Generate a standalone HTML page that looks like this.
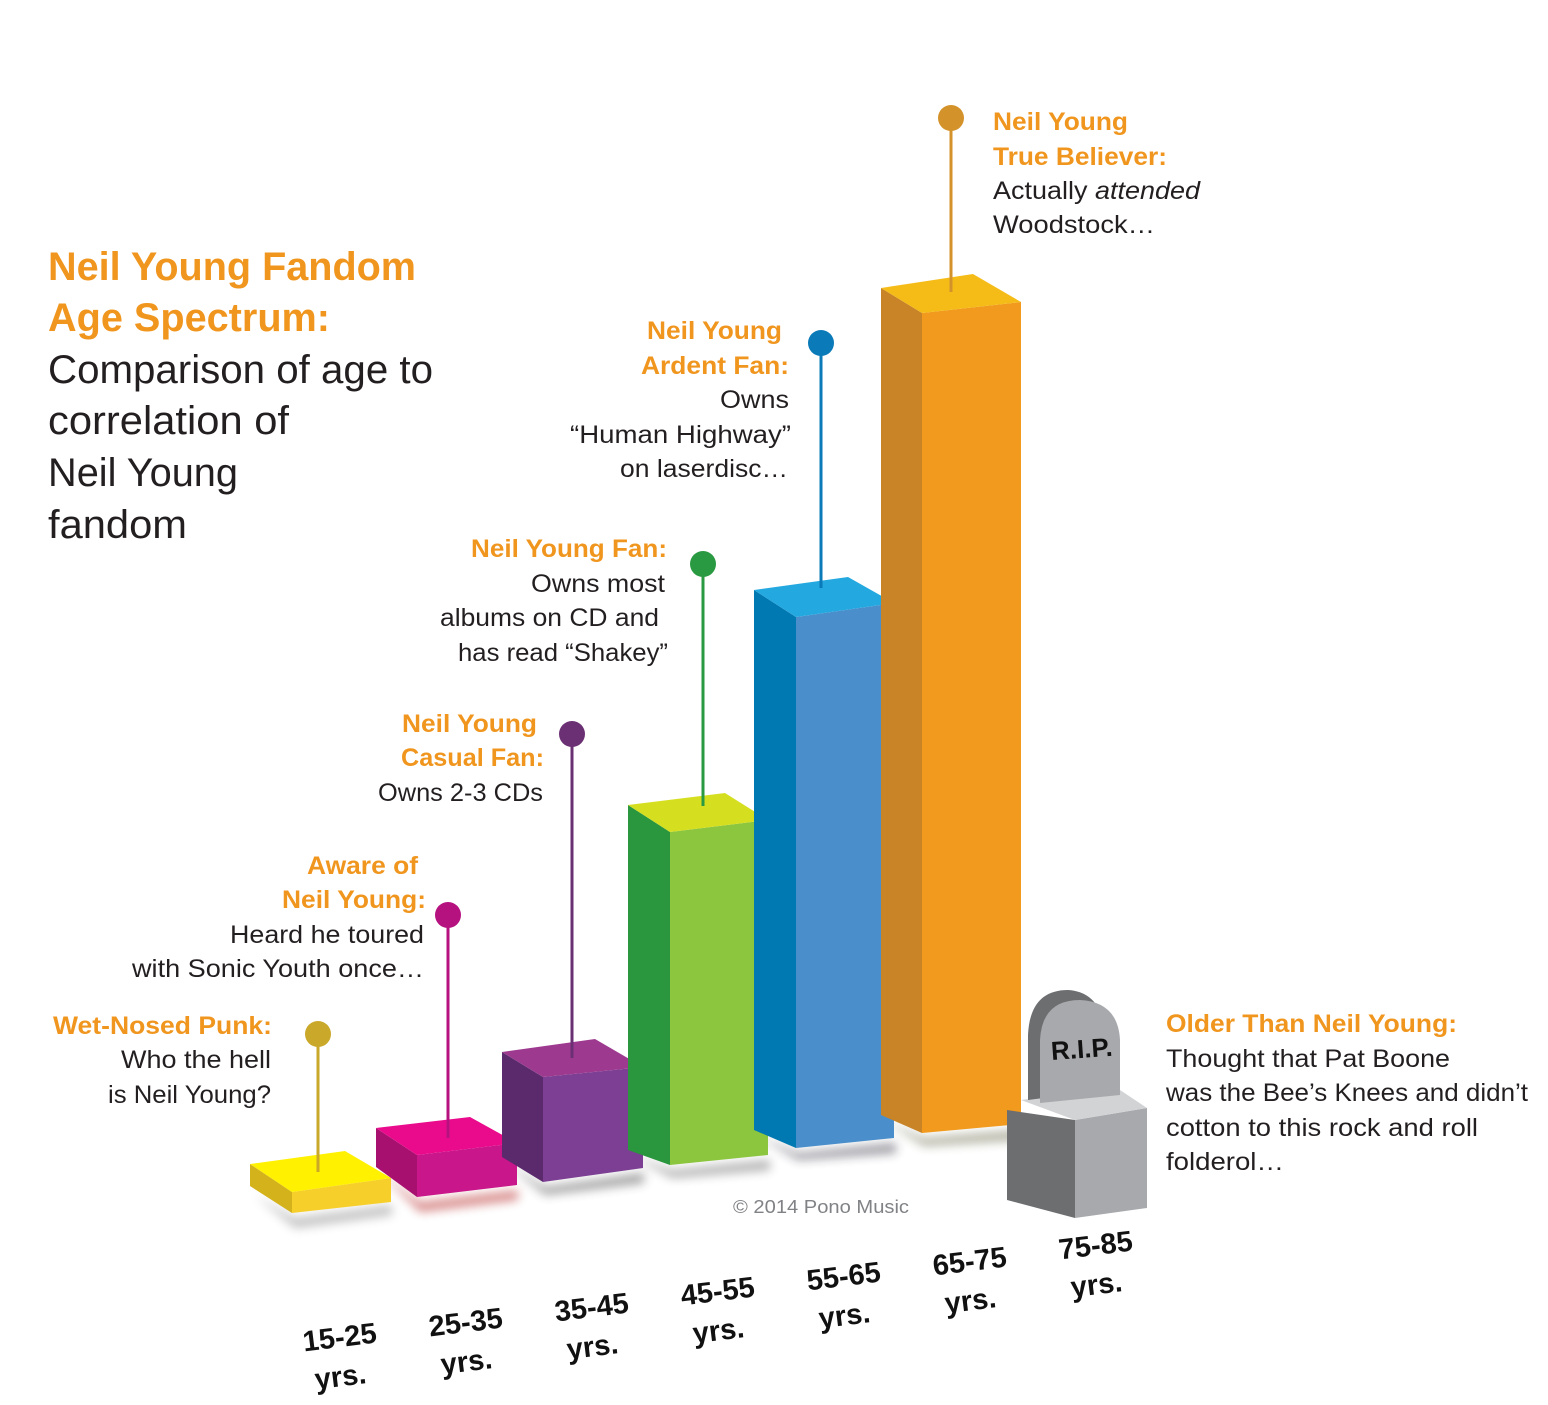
<!DOCTYPE html>
<html><head><meta charset="utf-8"><style>
html,body{margin:0;padding:0;background:#fff;}
svg{display:block;}
text{font-family:"Liberation Sans",sans-serif;}
.t{fill:#231f20;font-size:25px;}
.o{fill:#f0961e;font-size:25px;font-weight:bold;}
.y{fill:#111;font-size:29px;font-weight:bold;}
</style></head><body>
<svg width="1548" height="1405" viewBox="0 0 1548 1405" xmlns="http://www.w3.org/2000/svg">
<defs>
<filter id="sh" x="-20%" y="-20%" width="140%" height="140%"><feGaussianBlur stdDeviation="5"/></filter>
</defs>
<text x="48" y="280" fill="#f0961e" font-size="40" font-weight="bold" textLength="368" lengthAdjust="spacingAndGlyphs">Neil Young Fandom</text>
<text x="48" y="331" fill="#f0961e" font-size="40" font-weight="bold" textLength="282" lengthAdjust="spacingAndGlyphs">Age Spectrum:</text>
<text x="48" y="383" fill="#231f20" font-size="40" textLength="385" lengthAdjust="spacingAndGlyphs">Comparison of age to</text>
<text x="48" y="434" fill="#231f20" font-size="40" textLength="241" lengthAdjust="spacingAndGlyphs">correlation of</text>
<text x="48" y="486" fill="#231f20" font-size="40" textLength="190" lengthAdjust="spacingAndGlyphs">Neil Young</text>
<text x="48" y="538" fill="#231f20" font-size="40" textLength="139" lengthAdjust="spacingAndGlyphs">fandom</text>

<g filter="url(#sh)" opacity="0.45">
<polygon points="255,1195 295,1218 392,1205 392,1215 295,1228" fill="#777"/>
<polygon points="380,1172 420,1202 518,1190 518,1200 420,1212" fill="#a00"/>
<polygon points="505,1162 545,1187 644,1173 644,1183 545,1195" fill="#333"/>
<polygon points="630,1155 672,1170 770,1160 770,1170 672,1178" fill="#555"/>
<polygon points="756,1135 798,1153 896,1143 896,1153 798,1160" fill="#223"/>
<polygon points="883,1120 924,1138 1022,1130 1022,1140 924,1146" fill="#553"/>
</g>

<polygon points="250,1164 292,1192 292,1213 250,1186" fill="#d4b21c"/>
<polygon points="292,1192 391,1178 391,1202 292,1213" fill="#f7cf2a"/>
<polygon points="250,1164 345,1151 391,1178 292,1192" fill="#fff100"/>
<polygon points="376,1128 417,1155 417,1197 376,1167" fill="#a8106f"/>
<polygon points="417,1155 517,1143 517,1185 417,1197" fill="#c9168a"/>
<polygon points="376,1128 470,1117 517,1143 417,1155" fill="#ea0a8c"/>
<polygon points="502,1052 543,1077 543,1182 502,1157" fill="#5b2a6d"/>
<polygon points="543,1077 643,1067 643,1168 543,1182" fill="#7c3f94"/>
<polygon points="502,1052 595,1039 643,1067 543,1077" fill="#9d3a8f"/>
<polygon points="628,805 670,832 670,1165 628,1150" fill="#2a963e"/>
<polygon points="670,832 768,820 768,1155 670,1165" fill="#8cc63f"/>
<polygon points="628,805 725,793 768,820 670,832" fill="#d5df20"/>
<polygon points="754,590 796,617 796,1148 754,1130" fill="#0079b2"/>
<polygon points="796,617 894,603 894,1138 796,1148" fill="#4a8fcc"/>
<polygon points="754,590 848,577 894,603 796,617" fill="#24a8e0"/>
<polygon points="881,288 922,313 922,1133 881,1115" fill="#c88427"/>
<polygon points="922,313 1021,302 1021,1124 922,1133" fill="#f19a1d"/>
<polygon points="881,288 973,274 1021,302 922,313" fill="#f5bc18"/>

<polygon points="1007,1110 1075,1120 1075,1218 1007,1200" fill="#6d6e70"/>
<polygon points="1075,1120 1147,1108 1147,1208 1075,1218" fill="#a7a9ac"/>
<polygon points="1021,1100 1117,1088 1147,1108 1075,1120" fill="#d1d3d4"/>
<path d="M1028,1100 L1028,1035 Q1030,990 1068,990 Q1100,992 1105,1030 L1105,1090 Z" fill="#6d6e70"/>
<path d="M1040,1103 L1040,1040 Q1042,1000 1080,1000 Q1118,1002 1120,1040 L1120,1095 Z" fill="#a7a9ac"/>
<text x="1051" y="1058" font-size="26" font-weight="bold" fill="#111" transform="rotate(-4 1080 1050)">R.I.P.</text>

<g stroke-width="3">
<line x1="318" y1="1034" x2="318" y2="1172" stroke="#c9a82a"/>
<line x1="448" y1="915" x2="448" y2="1138" stroke="#b5127f"/>
<line x1="572" y1="734" x2="572" y2="1058" stroke="#6b2f74"/>
<line x1="703" y1="564" x2="703" y2="806" stroke="#2a9a42"/>
<line x1="821" y1="343" x2="821" y2="588" stroke="#0a7ab8"/>
<line x1="951" y1="118" x2="951" y2="292" stroke="#d4922a"/>
</g>
<circle cx="318" cy="1034" r="13" fill="#c9a82a"/>
<circle cx="448" cy="915" r="13" fill="#b5127f"/>
<circle cx="572" cy="734" r="13" fill="#6b2f74"/>
<circle cx="703" cy="564" r="13" fill="#2a9a42"/>
<circle cx="821" cy="343" r="13" fill="#0a7ab8"/>
<circle cx="951" cy="118" r="13" fill="#d4922a"/>

<text class="o" x="993" y="130" textLength="135" lengthAdjust="spacingAndGlyphs">Neil Young</text>
<text class="o" x="993" y="165" textLength="174" lengthAdjust="spacingAndGlyphs">True Believer:</text>
<text class="t" x="993" y="199" textLength="207" lengthAdjust="spacingAndGlyphs">Actually <tspan font-style="italic">attended</tspan></text>
<text class="t" x="993" y="233" textLength="162" lengthAdjust="spacingAndGlyphs">Woodstock…</text>

<text class="o" x="647" y="339" textLength="135" lengthAdjust="spacingAndGlyphs">Neil Young</text>
<text class="o" x="641" y="374" textLength="148" lengthAdjust="spacingAndGlyphs">Ardent Fan:</text>
<text class="t" x="720" y="408" textLength="69" lengthAdjust="spacingAndGlyphs">Owns</text>
<text class="t" x="570" y="443" textLength="221" lengthAdjust="spacingAndGlyphs">“Human Highway”</text>
<text class="t" x="620" y="477" textLength="168" lengthAdjust="spacingAndGlyphs">on laserdisc…</text>

<text class="o" x="471" y="557" textLength="196" lengthAdjust="spacingAndGlyphs">Neil Young Fan:</text>
<text class="t" x="531" y="592" textLength="134" lengthAdjust="spacingAndGlyphs">Owns most</text>
<text class="t" x="440" y="626" textLength="219" lengthAdjust="spacingAndGlyphs">albums on CD and</text>
<text class="t" x="458" y="661" textLength="210" lengthAdjust="spacingAndGlyphs">has read “Shakey”</text>

<text class="o" x="402" y="732" textLength="135" lengthAdjust="spacingAndGlyphs">Neil Young</text>
<text class="o" x="401" y="766" textLength="143" lengthAdjust="spacingAndGlyphs">Casual Fan:</text>
<text class="t" x="378" y="801" textLength="165" lengthAdjust="spacingAndGlyphs">Owns 2-3 CDs</text>

<text class="o" x="307" y="874" textLength="111" lengthAdjust="spacingAndGlyphs">Aware of</text>
<text class="o" x="282" y="908" textLength="144" lengthAdjust="spacingAndGlyphs">Neil Young:</text>
<text class="t" x="230" y="943" textLength="194" lengthAdjust="spacingAndGlyphs">Heard he toured</text>
<text class="t" x="132" y="977" textLength="292" lengthAdjust="spacingAndGlyphs">with Sonic Youth once…</text>

<text class="o" x="53" y="1034" textLength="219" lengthAdjust="spacingAndGlyphs">Wet-Nosed Punk:</text>
<text class="t" x="121" y="1068" textLength="150" lengthAdjust="spacingAndGlyphs">Who the hell</text>
<text class="t" x="108" y="1103" textLength="163" lengthAdjust="spacingAndGlyphs">is Neil Young?</text>

<text class="o" x="1166" y="1032" textLength="291" lengthAdjust="spacingAndGlyphs">Older Than Neil Young:</text>
<text class="t" x="1166" y="1067" textLength="284" lengthAdjust="spacingAndGlyphs">Thought that Pat Boone</text>
<text class="t" x="1166" y="1101" textLength="362" lengthAdjust="spacingAndGlyphs">was the Bee’s Knees and didn’t</text>
<text class="t" x="1166" y="1136" textLength="312" lengthAdjust="spacingAndGlyphs">cotton to this rock and roll</text>
<text class="t" x="1166" y="1170" textLength="118" lengthAdjust="spacingAndGlyphs">folderol…</text>

<text x="733" y="1213" font-size="18" fill="#808285" textLength="176" lengthAdjust="spacingAndGlyphs">© 2014 Pono Music</text>

<g text-anchor="middle">
<g transform="rotate(-7 340 1340)"><text class="y" x="340" y="1347">15-25</text><text class="y" x="336" y="1386">yrs.</text></g>
<g transform="rotate(-7 466 1325)"><text class="y" x="466" y="1332">25-35</text><text class="y" x="462" y="1371">yrs.</text></g>
<g transform="rotate(-7 592 1310)"><text class="y" x="592" y="1317">35-45</text><text class="y" x="588" y="1356">yrs.</text></g>
<g transform="rotate(-7 718 1294)"><text class="y" x="718" y="1301">45-55</text><text class="y" x="714" y="1340">yrs.</text></g>
<g transform="rotate(-7 844 1279)"><text class="y" x="844" y="1286">55-65</text><text class="y" x="840" y="1325">yrs.</text></g>
<g transform="rotate(-7 970 1264)"><text class="y" x="970" y="1271">65-75</text><text class="y" x="966" y="1310">yrs.</text></g>
<g transform="rotate(-7 1096 1248)"><text class="y" x="1096" y="1255">75-85</text><text class="y" x="1092" y="1294">yrs.</text></g>
</g>
</svg>
</body></html>
